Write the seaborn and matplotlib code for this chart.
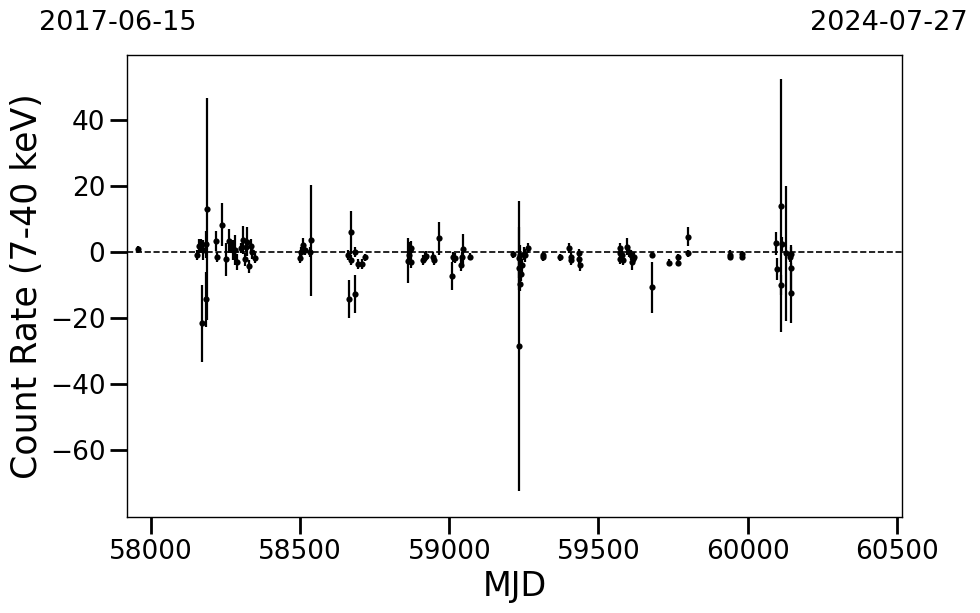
import pandas as pd
import numpy as np
import matplotlib
matplotlib.use("Agg")
import matplotlib.pyplot as plt
import seaborn as sns

# light curve values
mjd = [57956, 58154, 58159, 58168, 58170, 58175, 58183, 58184, 58186,
       58219, 58220, 58238, 58251, 58261, 58267, 58274, 58280, 58288, 58300,
       58308, 58314, 58317, 58323, 58327, 58334, 58338, 58347,
       58498, 58504, 58509, 58515, 58533, 58535,
       58660, 58663, 58669, 58671, 58682, 58683, 58694, 58707, 58716,
       58861, 58866, 58868, 58870, 58872,
       58912, 58917, 58923, 58945, 58950, 58964,
       59009, 59012, 59018, 59040, 59041, 59046, 59070,
       59213, 59233, 59234, 59235, 59236, 59238, 59240, 59245, 59250, 59255, 59264,
       59314, 59315, 59370, 59401, 59407, 59408, 59435, 59436, 59437,
       59571, 59572, 59573, 59580, 59582, 59597, 59602, 59608, 59612, 59617, 59620,
       59680, 59681, 59735, 59766, 59767, 59800, 59801, 59940, 59941, 59980, 59983,
       60094, 60100, 60111, 60112, 60114, 60130, 60142, 60145, 60146, 60147]

rate = [0.8, -0.9, 1.8, 1.8, -21.6, 0.5, -14.3, 2.3, 13.0,
        3.3, -1.4, 8.2, -2.2, 3.3, 1.2, 0.5, 0.6, -3.1, 1.1,
        3.6, -2.2, 1.5, 3.1, -4.4, 1.8, 0.0, -1.9,
        -1.9, -0.1, 2.1, 0.5, 0.0, 3.6,
        -0.9, -14.3, 5.9, -2.4, -12.7, 0.0, -3.6, -3.6, -1.6,
        -2.7, -0.9, 0.5, 1.3, -2.9,
        -2.4, -1.4, -1.1, -1.4, -2.4, 4.1,
        -7.3, -1.4, -1.9, -3.9, -1.4, 0.8, -1.4,
        -0.7, -28.5, -1.9, -4.9, -9.7, -1.0, -6.7, -4.0, -0.5, -1.0, 1.1,
        -1.6, -1.0, -1.6, 1.1, -2.4, -1.4, -0.2, -2.2, -3.9,
        1.1, -0.2, -2.2, -0.8, -2.4, 1.6, 0.0, -0.8, -2.9, -2.2, -1.6,
        -0.9, -10.7, -3.2, -3.2, -1.6, 4.6, -0.4, -0.9, -1.5, -0.6, -1.4,
        2.6, -5.2, 14.0, -10.0, 2.4, -0.4, -1.4, -4.9, -12.5, -0.5]

err = [1.0, 1.5, 2.0, 2.0, 11.7, 3.0, 8.3, 4.0, 33.5,
       3.0, 1.5, 6.5, 5.0, 3.6, 1.5, 3.0, 4.5, 2.5, 1.5,
       4.3, 2.0, 1.5, 4.3, 2.0, 2.0, 2.0, 1.5,
       1.5, 1.5, 2.0, 1.5, 1.5, 16.8,
       1.5, 5.8, 6.4, 1.5, 5.8, 1.5, 1.5, 1.5, 1.0,
       6.8, 2.0, 2.5, 2.0, 2.0,
       1.5, 1.5, 1.5, 1.5, 1.5, 5.1,
       4.2, 1.5, 1.5, 2.0, 1.5, 4.5, 1.0,
       1.0, 43.8, 9.6, 3.0, 2.0, 3.0, 2.0, 2.0, 2.0, 2.0, 1.5,
       1.0, 1.0, 1.0, 1.5, 1.5, 1.5, 1.0, 1.5, 2.0,
       1.5, 1.5, 1.5, 1.5, 1.5, 2.5, 1.5, 1.5, 2.5, 1.5, 1.5,
       1.0, 7.8, 1.0, 1.0, 1.0, 2.8, 1.0, 1.5, 1.0, 1.0, 1.0,
       3.5, 3.4, 38.2, 3.0, 2.0, 20.5, 1.5, 7.0, 9.1, 2.0]

mjd_start, mjd_end = 57919, 60518
date_start, date_end = "2017-06-15", "2024-07-27"

df = pd.DataFrame({"MJD": mjd, "rate": rate, "err": err})

sns.set_style("ticks")
plt.rcParams['font.family'] = ['DejaVu Sans']
plt.rcParams['text.color'] = 'black'
plt.rcParams['axes.labelcolor'] = 'black'
plt.rcParams['xtick.color'] = 'black'
plt.rcParams['ytick.color'] = 'black'

fig = plt.figure(figsize=(9.8, 6.13), dpi=100)
ax = fig.add_axes([0.1296, 0.1566, 0.7908, 0.7537])

ax.errorbar(df["MJD"], df["rate"], yerr=df["err"], fmt='none',
            ecolor='black', elinewidth=1.6, capsize=0, zorder=2)
sns.scatterplot(data=df, x="MJD", y="rate", color='black', s=20,
                edgecolor='black', linewidth=0, ax=ax, zorder=3)
ax.axhline(0, color='black', linestyle='--', linewidth=1.2, zorder=1)

ax.set_xlim(mjd_start, mjd_end)
ax.set_ylim(-80.2, 59.6)
ax.set_xticks([58000, 58500, 59000, 59500, 60000, 60500])
ax.set_yticks([-60, -40, -20, 0, 20, 40])

ax.set_xlabel('MJD', fontsize=24, color='black')
ax.set_ylabel('Count Rate (7-40 keV)', fontsize=25, color='black')
ax.tick_params(axis='both', labelsize=19, length=12, width=2, direction='out',
               color='black', labelcolor='black')
for sp in ax.spines.values():
    sp.set_linewidth(1.0)
    sp.set_color('black')

fig.text(117.5 / 980, 1 - 22.5 / 613, date_start, fontsize=19.5, ha='center', va='center', color='black')
fig.text(889 / 980, 1 - 22.5 / 613, date_end, fontsize=19.5, ha='center', va='center', color='black')

plt.savefig('out.png', dpi=100)
